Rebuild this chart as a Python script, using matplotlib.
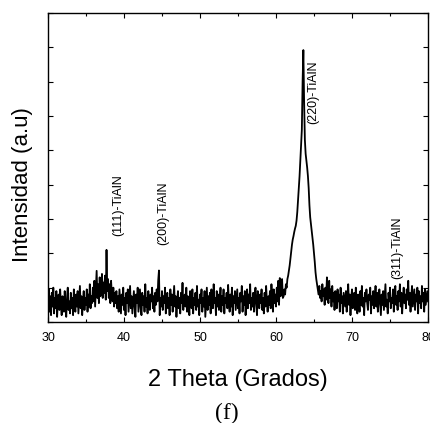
import matplotlib
matplotlib.use("Agg")
import matplotlib.pyplot as plt
from matplotlib.ticker import MultipleLocator
import numpy as np

# ── DATA (0.1 deg step from 30 to 80) ────────────────────────────────────────
theta_start = 30.0
theta_step = 0.1

intensity = [
    60, 95, 30, 75, 20, 85, 45, 100, 25, 70,        # 30
    40, 90, 15, 65, 80, 35, 95, 50, 20, 75,         # 31
    55, 30, 90, 45, 15, 70, 100, 35, 60, 25,        # 32
    85, 40, 70, 20, 95, 55, 30, 80, 45, 90,         # 33
    25, 65, 105, 40, 75, 20, 60, 90, 35, 70,        # 34
    50, 95, 30, 80, 45, 110, 40, 75, 55, 100,       # 35
    60, 120, 45, 95, 149, 70, 110, 55, 130, 75,     # 36
    95, 140, 70, 115, 85, 135, 65, 210, 90, 125,    # 37
    70, 110, 55, 120, 80, 60, 100, 45, 85, 55,      # 38
    90, 40, 75, 30, 95, 60, 25, 80, 50, 100,        # 39
    35, 70, 20, 85, 55, 95, 30, 65, 105, 40,        # 40
    75, 25, 60, 90, 45, 15, 80, 55, 100, 30,        # 41
    65, 95, 40, 20, 85, 50, 75, 30, 110, 45,        # 42
    70, 25, 90, 55, 35, 80, 60, 100, 40, 75,        # 43
    30, 85, 50, 95, 60, 120, 150, 20, 70, 45,       # 44
    90, 35, 75, 55, 100, 25, 65, 85, 40, 70,        # 45
    20, 95, 50, 80, 30, 65, 105, 45, 75, 15,        # 46
    60, 90, 40, 70, 25, 85, 55, 114, 35, 65,        # 47
    80, 45, 100, 30, 75, 55, 20, 90, 60, 40,        # 48
    95, 25, 70, 50, 85, 35, 105, 45, 65, 20,        # 49
    80, 55, 95, 30, 70, 45, 90, 15, 60, 100,        # 50
    35, 75, 50, 85, 25, 95, 60, 40, 110, 55,        # 51
    70, 20, 90, 45, 80, 35, 65, 100, 30, 75,        # 52
    50, 95, 25, 70, 55, 85, 40, 108, 60, 30,        # 53
    80, 45, 100, 20, 75, 55, 90, 35, 65, 95,        # 54
    40, 70, 25, 85, 60, 105, 30, 75, 50, 90,        # 55
    20, 65, 95, 40, 80, 55, 110, 35, 70, 45,        # 56
    85, 30, 75, 100, 50, 20, 90, 60, 40, 80,        # 57
    55, 95, 35, 70, 25, 85, 45, 105, 60, 30,        # 58
    75, 50, 90, 40, 110, 65, 30, 95, 55, 80,        # 59
    45, 100, 60, 120, 50, 128, 75, 95, 125, 70,     # 60
    75, 95, 80, 110, 100, 125, 135, 150, 165, 185,  # 61
    205, 225, 240, 250, 262, 272, 280, 295, 320, 355,  # 62
    395, 425, 470, 510, 560, 700, 792, 640, 530, 490,  # 63
    470, 450, 425, 390, 340, 305, 285, 265, 245, 225,  # 64
    200, 175, 145, 125, 110, 95, 80, 105, 70, 90,   # 65
    60, 110, 75, 95, 50, 100, 65, 130, 85, 55,      # 66
    120, 70, 95, 45, 105, 60, 85, 35, 90, 70,       # 67
    40, 95, 60, 80, 30, 100, 55, 75, 25, 85,        # 68
    65, 45, 90, 30, 75, 110, 50, 80, 20, 70,        # 69
    95, 40, 65, 85, 35, 100, 55, 25, 80, 60,        # 70
    30, 90, 50, 105, 45, 70, 20, 85, 60, 95,        # 71
    55, 35, 80, 65, 100, 25, 75, 50, 90, 40,        # 72
    70, 105, 45, 85, 30, 60, 95, 55, 20, 80,        # 73
    50, 90, 35, 75, 110, 45, 65, 25, 85, 60,        # 74
    100, 40, 70, 55, 95, 30, 80, 105, 50, 75,       # 75
    35, 90, 60, 110, 45, 85, 25, 70, 100, 55,       # 76
    80, 40, 95, 65, 120, 50, 85, 30, 75, 105,       # 77
    45, 70, 95, 35, 80, 60, 100, 25, 90, 55,        # 78
    75, 40, 105, 60, 85, 30, 95, 50, 70, 90,        # 79
    60,                                             # 80
]

two_theta = np.round(theta_start + theta_step * np.arange(len(intensity)), 2)

peak_labels = ["(111)-TiAlN", "(200)-TiAlN", "(220)-TiAlN", "(311)-TiAlN"]
peak_x = [39.2, 45.1, 64.9, 75.9]
peak_y = [250, 225, 578, 125]

# ── PLOT ─────────────────────────────────────────────────────────────────────
fig = plt.figure(figsize=(4.30, 4.23), dpi=100)
ax = fig.add_axes([48 / 430, 101 / 423, 380 / 430, 309 / 423])

ax.plot(two_theta, intensity, color="black", linewidth=1.3)

for lab, px, py in zip(peak_labels, peak_x, peak_y):
    ax.text(px, py, lab, rotation=90, ha="center", va="bottom",
            fontsize=9, family="Liberation Sans")

ax.set_xlim(30, 80)
ax.set_ylim(0, 900)
ax.xaxis.set_major_locator(MultipleLocator(10))
ax.xaxis.set_minor_locator(MultipleLocator(5))
ax.yaxis.set_major_locator(MultipleLocator(100))
ax.set_yticklabels([])
ax.tick_params(which="both", direction="in", top=True, right=True, width=0.8)
ax.tick_params(which="major", length=3.5, pad=7)
ax.tick_params(which="minor", length=2)
for lbl in ax.get_xticklabels():
    lbl.set_family("Liberation Sans")
    lbl.set_fontsize(9)
for sp in ax.spines.values():
    sp.set_linewidth(1.0)

fig.text(238 / 430, 1 - 380 / 423, "2 Theta (Grados)", ha="center", va="center",
         fontsize=17, family="Liberation Sans")
fig.text(23 / 430, 1 - 185 / 423, "Intensidad (a.u)", rotation=90, ha="center",
         va="center", fontsize=16, family="Liberation Sans")
fig.text(227 / 430, 1 - 413 / 423, "(f)", ha="center", va="center",
         fontsize=17, family="Liberation Serif")

plt.savefig("out.png", dpi=100)
